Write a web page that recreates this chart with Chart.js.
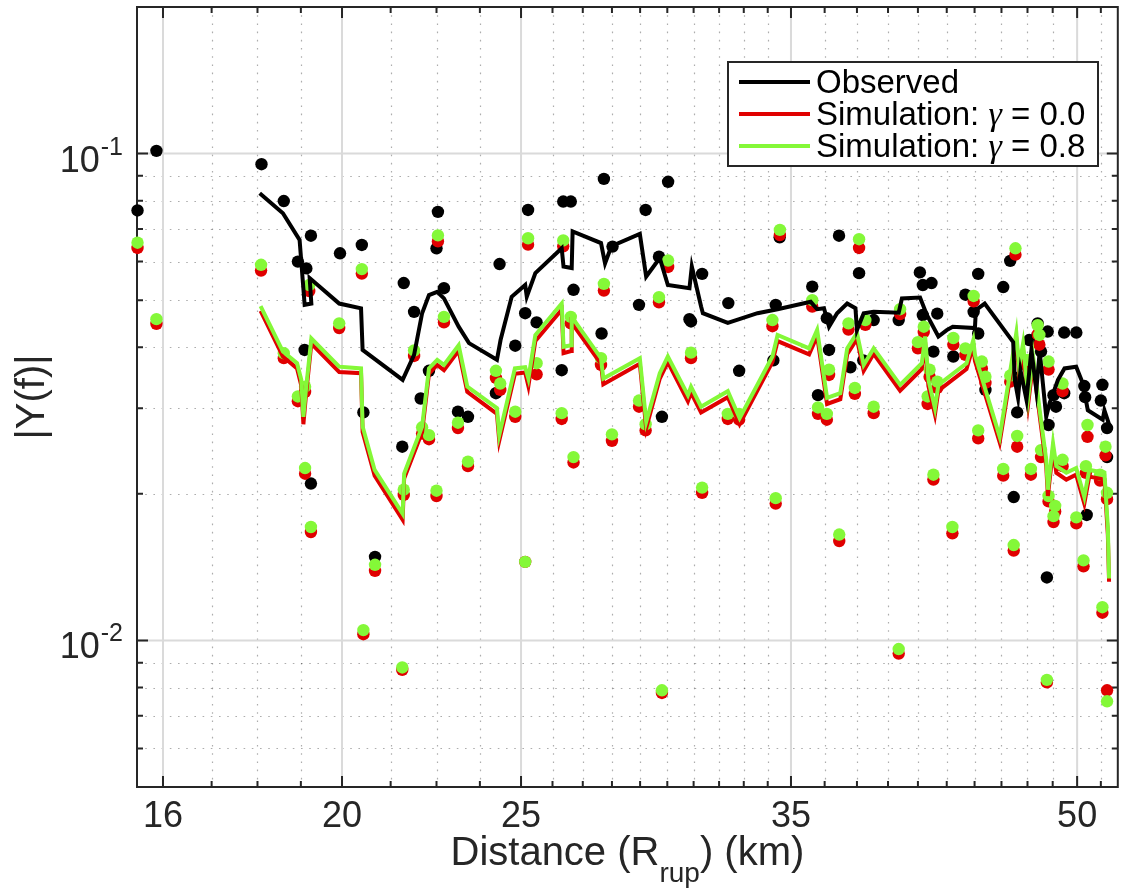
<!DOCTYPE html>
<html>
<head>
<meta charset="utf-8">
<script src="https://cdn.jsdelivr.net/npm/chart.js@4.4.1/dist/chart.umd.min.js"></script>
<style>
  html, body { margin: 0; padding: 0; background: #fff; }
  canvas { display: block; }
</style>
</head>
<body>
<canvas id="yfChart" width="1124" height="891"></canvas>
<script>
// observed station values (dots)
const obsDotX = [15.5, 15.87, 18.09, 18.6, 18.93, 19.09, 19.13, 19.24, 19.24, 19.95, 20.5, 20.54, 20.84, 21.56, 21.6, 21.88, 22.06, 22.29, 22.5, 22.54, 22.71, 23.11, 23.4, 24.23, 24.34, 24.82, 25.13, 25.22, 25.49, 26.3, 26.35, 26.6, 26.69, 27.64, 27.72, 28.02, 28.96, 29.2, 29.69, 29.8, 30.03, 30.84, 30.9, 31.33, 32.37, 32.81, 34.24, 34.34, 34.51, 35.94, 36.2, 36.6, 36.7, 37.16, 37.69, 38.1, 38.3, 38.8, 40.03, 41.1, 41.25, 41.25, 41.7, 41.8, 42.0, 42.85, 43.5, 43.95, 44.2, 44.2, 44.6, 45.6, 46.0, 46.2, 46.35, 46.4, 47.1, 47.6, 47.8, 48.15, 48.2, 48.25, 48.55, 48.7, 49.2, 49.2, 49.95, 50.45, 50.5, 50.6, 51.5, 51.6, 51.9, 51.9];
const obsDotY = [0.0764, 0.1013, 0.0951, 0.0799, 0.060, 0.0395, 0.0581, 0.0678, 0.021, 0.0624, 0.0649, 0.0294, 0.01485, 0.025, 0.0542, 0.0473, 0.0314, 0.0358, 0.0639, 0.0759, 0.0529, 0.0295, 0.0288, 0.0322, 0.0593, 0.0403, 0.047, 0.0766, 0.045, 0.0359, 0.0797, 0.0797, 0.0525, 0.0427, 0.0887, 0.0644, 0.0489, 0.0766, 0.0614, 0.0288, 0.0875, 0.0457, 0.0452, 0.0566, 0.0493, 0.0358, 0.0376, 0.0489, 0.0673, 0.0533, 0.0319, 0.0459, 0.0395, 0.0678, 0.0364, 0.0568, 0.0376, 0.0455, 0.0455, 0.057, 0.0537, 0.0466, 0.0542, 0.0392, 0.0469, 0.0383, 0.0513, 0.0473, 0.0566, 0.0427, 0.0327, 0.0532, 0.0602, 0.0197, 0.0346, 0.0294, 0.0414, 0.0448, 0.0392, 0.01347, 0.0431, 0.0277, 0.0319, 0.0302, 0.0429, 0.0322, 0.0429, 0.0333, 0.0316, 0.0181, 0.0311, 0.0335, 0.0273, 0.0238];

// simulated station values (dots), gamma = 0.8 and gamma = 0.0
const simDotX = [15.5, 15.87, 18.08, 18.6, 18.93, 19.1, 19.1, 19.2, 19.24, 19.93, 20.5, 20.54, 20.84, 21.56, 21.6, 21.88, 22.1, 22.29, 22.5, 22.54, 22.71, 23.11, 23.4, 24.23, 24.36, 24.82, 25.13, 25.22, 25.49, 26.3, 26.35, 26.6, 26.69, 27.62, 27.72, 28.0, 28.96, 29.2, 29.69, 29.8, 30.03, 30.9, 31.33, 32.35, 32.81, 34.2, 34.34, 34.52, 35.94, 36.2, 36.6, 36.7, 37.17, 37.6, 37.9, 38.1, 38.4, 38.8, 40.03, 40.1, 41.0, 41.3, 41.5, 41.6, 41.8, 42.0, 42.8, 42.85, 43.5, 43.95, 44.2, 44.4, 44.6, 45.6, 46.0, 46.2, 46.3, 46.4, 47.0, 47.2, 47.6, 47.7, 47.8, 48.15, 48.25, 48.25, 48.55, 48.65, 49.1, 49.1, 49.95, 50.4, 50.55, 50.65, 51.45, 51.6, 51.8, 51.9, 51.9];
const sim08DotY = [0.0656, 0.0457, 0.0591, 0.0389, 0.0317, 0.0332, 0.0226, 0.0537, 0.0171, 0.0448, 0.0579, 0.0105, 0.0143, 0.0088, 0.0204, 0.0394, 0.0274, 0.0264, 0.0203, 0.0679, 0.0462, 0.028, 0.0233, 0.0358, 0.0337, 0.0295, 0.0145, 0.067, 0.0371, 0.0293, 0.0663, 0.0462, 0.0238, 0.038, 0.054, 0.0265, 0.0311, 0.0278, 0.0507, 0.0079, 0.0603, 0.039, 0.0206, 0.0292, 0.0292, 0.0455, 0.0196, 0.0697, 0.050, 0.0301, 0.0292, 0.036, 0.0165, 0.0448, 0.033, 0.0667, 0.0455, 0.0302, 0.0096, 0.0479, 0.041, 0.0441, 0.0317, 0.036, 0.0219, 0.034, 0.0171, 0.0418, 0.0398, 0.051, 0.027, 0.0374, 0.0348, 0.0225, 0.035, 0.0157, 0.0639, 0.0263, 0.0377, 0.0225, 0.0444, 0.0424, 0.0246, 0.0083, 0.0374, 0.0198, 0.018, 0.0189, 0.0337, 0.0235, 0.0179, 0.0146, 0.0228, 0.0277, 0.0219, 0.0117, 0.025, 0.0075, 0.0201];
const sim00DotY = [0.064, 0.0447, 0.0575, 0.038, 0.031, 0.0324, 0.022, 0.0522, 0.0167, 0.0438, 0.0567, 0.0103, 0.0139, 0.0087, 0.0199, 0.0384, 0.0266, 0.0259, 0.0198, 0.066, 0.045, 0.0273, 0.0228, 0.0346, 0.0327, 0.0288, 0.0145, 0.065, 0.0352, 0.0285, 0.0645, 0.0448, 0.0232, 0.0368, 0.0523, 0.0257, 0.0302, 0.027, 0.0495, 0.0078, 0.0585, 0.038, 0.0201, 0.0285, 0.0284, 0.0442, 0.0191, 0.068, 0.0485, 0.0292, 0.0284, 0.0351, 0.016, 0.0435, 0.0321, 0.064, 0.0445, 0.0293, 0.0094, 0.0468, 0.0398, 0.043, 0.0306, 0.0348, 0.0214, 0.033, 0.0166, 0.0405, 0.0386, 0.0497, 0.026, 0.0362, 0.0338, 0.0218, 0.034, 0.0153, 0.062, 0.025, 0.0365, 0.0219, 0.0425, 0.0405, 0.0238, 0.0082, 0.036, 0.0193, 0.0175, 0.0184, 0.0325, 0.0228, 0.0174, 0.0142, 0.0221, 0.0262, 0.0213, 0.0114, 0.024, 0.0079, 0.0195];

// running curves
const obsLineX = [18.05, 18.58, 18.97, 19.09, 19.25, 19.21, 19.93, 20.48, 20.52, 21.57, 21.88, 22.1, 22.29, 22.52, 22.71, 23.13, 23.43, 24.26, 24.37, 24.71, 25.13, 25.18, 25.45, 26.3, 26.36, 26.63, 26.66, 27.62, 27.76, 27.98, 28.99, 29.22, 29.72, 30.02, 30.84, 30.93, 31.29, 31.36, 32.35, 33.57, 34.42, 35.87, 36.16, 36.47, 36.7, 37.07, 37.54, 37.93, 38.0, 38.32, 38.8, 40.03, 40.19, 41.11, 41.46, 42.06, 42.5, 42.82, 44.02, 44.07, 44.56, 46.17, 46.26, 46.45, 46.59, 46.94, 47.23, 47.52, 47.72, 48.11, 48.31, 48.82, 49.22, 49.94, 50.36, 50.67, 51.62, 51.73, 52.16];
const obsLineY = [0.0829, 0.0754, 0.0665, 0.0489, 0.0492, 0.0555, 0.0492, 0.0481, 0.0395, 0.0343, 0.0386, 0.047, 0.0512, 0.052, 0.0504, 0.0441, 0.0408, 0.0377, 0.0414, 0.0508, 0.0537, 0.0508, 0.0568, 0.0639, 0.0586, 0.0582, 0.0692, 0.0655, 0.0595, 0.0645, 0.0684, 0.0559, 0.061, 0.0537, 0.0529, 0.0586, 0.0485, 0.047, 0.0449, 0.047, 0.0479, 0.0496, 0.0479, 0.0481, 0.0441, 0.047, 0.0492, 0.0481, 0.0434, 0.047, 0.0473, 0.0471, 0.0504, 0.0506, 0.0466, 0.0421, 0.0434, 0.0441, 0.0438, 0.0477, 0.0492, 0.041, 0.0343, 0.0315, 0.0359, 0.0312, 0.0395, 0.0327, 0.0392, 0.0288, 0.0307, 0.0343, 0.0362, 0.0365, 0.0337, 0.0297, 0.0284, 0.0297, 0.027];

const simLineX = [18.07, 18.58, 18.91, 19.01, 19.06, 19.12, 19.25, 19.93, 20.48, 20.52, 20.83, 21.57, 21.61, 22.1, 22.29, 22.52, 22.71, 23.13, 23.38, 24.26, 24.33, 24.81, 25.13, 25.23, 25.45, 26.3, 26.36, 26.61, 26.63, 27.62, 27.7, 28.99, 29.22, 29.72, 30.02, 30.78, 30.9, 31.29, 32.35, 32.83, 34.2, 34.42, 35.8, 36.16, 36.61, 37.22, 37.54, 38.0, 38.32, 38.8, 40.1, 41.2, 41.37, 41.54, 41.88, 42.06, 43.56, 43.93, 44.02, 45.4, 46.35, 46.51, 46.74, 47.04, 47.33, 47.72, 48.11, 48.21, 48.52, 48.72, 49.33, 49.94, 50.45, 50.76, 51.73, 51.95, 52.03];
const sim08LineY = [0.0486, 0.0392, 0.0371, 0.0343, 0.0288, 0.0327, 0.0417, 0.0365, 0.0362, 0.0275, 0.0224, 0.0182, 0.022, 0.0275, 0.0362, 0.0377, 0.0368, 0.0404, 0.0332, 0.03, 0.0264, 0.0362, 0.0364, 0.0345, 0.0424, 0.0492, 0.0401, 0.0404, 0.0462, 0.038, 0.0345, 0.038, 0.0281, 0.0354, 0.0383, 0.0319, 0.0332, 0.0302, 0.0325, 0.0286, 0.0383, 0.0424, 0.0398, 0.0434, 0.0315, 0.0322, 0.0398, 0.0428, 0.0368, 0.0398, 0.0335, 0.0371, 0.0421, 0.0343, 0.03, 0.0335, 0.0371, 0.0414, 0.0386, 0.0262, 0.0428, 0.0365, 0.0407, 0.0315, 0.0383, 0.0297, 0.0235, 0.0204, 0.0254, 0.0228, 0.0221, 0.0226, 0.0197, 0.0224, 0.0221, 0.0171, 0.0134];
const sim00LineY = [0.0475, 0.0383, 0.0362, 0.0334, 0.0278, 0.0318, 0.0407, 0.0356, 0.0354, 0.0268, 0.0218, 0.0177, 0.0215, 0.0268, 0.0353, 0.0368, 0.0359, 0.0394, 0.0324, 0.0292, 0.0257, 0.0353, 0.0355, 0.0333, 0.0412, 0.0478, 0.0389, 0.0393, 0.0449, 0.037, 0.0336, 0.037, 0.0273, 0.0345, 0.0373, 0.031, 0.0323, 0.0294, 0.0316, 0.0278, 0.0373, 0.0412, 0.0387, 0.0422, 0.0306, 0.0313, 0.0387, 0.0416, 0.0358, 0.0388, 0.0326, 0.0361, 0.041, 0.0333, 0.0291, 0.0326, 0.0361, 0.0403, 0.0375, 0.0255, 0.0416, 0.0355, 0.0396, 0.0306, 0.0372, 0.0289, 0.0228, 0.0198, 0.0247, 0.0221, 0.0214, 0.0219, 0.0191, 0.0217, 0.0214, 0.0165, 0.0132];

// axes
const xMin = 15.49, xMax = 52.6;
const yMin = 0.005, yMax = 0.2;
const xMajorTicks = [16, 20, 25, 35, 50];
const xMinorTicks = [17, 18, 19, 21.25, 22.5, 23.75, 26, 27, 28, 29, 30, 31, 32, 33, 34, 36.5, 38, 39.5, 41, 42.5, 44, 45.5, 47, 48.5, 51.5];
const yMajorTicks = [0.01, 0.1];
const yMajorExponents = ['-2', '-1'];
const yMinorTicks = [0.006, 0.007, 0.008, 0.009, 0.02, 0.03, 0.04, 0.05, 0.06, 0.07, 0.08, 0.09];

const FONT = "'Liberation Sans', Arial, Helvetica, sans-serif";
const INK = '#262626';
const GREEN = '#84f838';
const RED = '#e00000';

const pts = (xs, ys) => xs.map((x, i) => ({ x: x, y: ys[i] }));

// grid, box and inward ticks like the original axes
const axesFrame = {
  id: 'axesFrame',
  beforeDatasetsDraw(chart) {
    const { ctx, chartArea: a, scales: { x, y } } = chart;
    ctx.save();
    ctx.lineWidth = 1.2;
    ctx.strokeStyle = 'rgba(0,0,0,0.32)';
    ctx.setLineDash([1.6, 6.6]);
    xMinorTicks.forEach((v) => {
      const p = Math.round(x.getPixelForValue(v)) + 0.5;
      ctx.beginPath(); ctx.moveTo(p, a.top); ctx.lineTo(p, a.bottom); ctx.stroke();
    });
    yMinorTicks.forEach((v) => {
      const p = Math.round(y.getPixelForValue(v)) + 0.5;
      ctx.beginPath(); ctx.moveTo(a.left, p); ctx.lineTo(a.right, p); ctx.stroke();
    });
    ctx.setLineDash([]);
    ctx.lineWidth = 2;
    ctx.strokeStyle = '#dadada';
    xMajorTicks.forEach((v) => {
      const p = x.getPixelForValue(v);
      ctx.beginPath(); ctx.moveTo(p, a.top); ctx.lineTo(p, a.bottom); ctx.stroke();
    });
    yMajorTicks.forEach((v) => {
      const p = y.getPixelForValue(v);
      ctx.beginPath(); ctx.moveTo(a.left, p); ctx.lineTo(a.right, p); ctx.stroke();
    });

    ctx.strokeStyle = INK;
    ctx.lineWidth = 2;
    const tick = (vals, len) => {
      vals.forEach((v) => {
        const p = x.getPixelForValue(v);
        ctx.beginPath();
        ctx.moveTo(p, a.bottom); ctx.lineTo(p, a.bottom - len);
        ctx.moveTo(p, a.top); ctx.lineTo(p, a.top + len);
        ctx.stroke();
      });
    };
    const ytick = (vals, len) => {
      vals.forEach((v) => {
        const p = y.getPixelForValue(v);
        ctx.beginPath();
        ctx.moveTo(a.left, p); ctx.lineTo(a.left + len, p);
        ctx.moveTo(a.right, p); ctx.lineTo(a.right - len, p);
        ctx.stroke();
      });
    };
    tick(xMajorTicks, 11);
    tick(xMinorTicks, 6);
    ytick(yMajorTicks, 11);
    ytick(yMinorTicks, 6);
    ctx.strokeRect(a.left, a.top, a.right - a.left, a.bottom - a.top);
    ctx.restore();
  },
  afterDraw(chart) {
    const { ctx, chartArea: a, scales: { y } } = chart;
    ctx.save();
    ctx.fillStyle = INK;
    ctx.textBaseline = 'alphabetic';

    // y tick labels 10^n
    yMajorTicks.forEach((v, i) => {
      const p = y.getPixelForValue(v);
      ctx.font = '36px ' + FONT;
      const wb = ctx.measureText('10').width;
      ctx.font = '25px ' + FONT;
      const we = ctx.measureText(yMajorExponents[i]).width;
      const sx = a.left - 15 - we - wb;
      ctx.font = '36px ' + FONT;
      ctx.fillText('10', sx, p + 18);
      ctx.font = '25px ' + FONT;
      ctx.fillText(yMajorExponents[i], sx + wb + 1, p + 1);
    });

    // x axis title with subscript
    const big = '40px ' + FONT;
    const small = '28px ' + FONT;
    ctx.font = big;
    const w1 = ctx.measureText('Distance (R').width;
    const w3 = ctx.measureText(') (km)').width;
    ctx.font = small;
    const w2 = ctx.measureText('rup').width;
    let tx = (a.left + a.right) / 2 - (w1 + w2 + w3) / 2;
    ctx.font = big;
    ctx.fillText('Distance (R', tx, 865);
    tx += w1;
    ctx.font = small;
    ctx.fillText('rup', tx, 882);
    tx += w2;
    ctx.font = big;
    ctx.fillText(') (km)', tx, 865);

    // legend box
    const bx = 728, by = 62, bw = 370, bh = 104;
    ctx.fillStyle = '#fff';
    ctx.fillRect(bx, by, bw, bh);
    ctx.strokeStyle = INK;
    ctx.lineWidth = 2;
    ctx.strokeRect(bx, by, bw, bh);
    const rows = [0, 2, 1];
    rows.forEach((di, r) => {
      const ds = chart.data.datasets[di];
      const ly = 82 + r * 32;
      ctx.strokeStyle = ds.borderColor;
      ctx.lineWidth = 4;
      ctx.beginPath(); ctx.moveTo(739, ly); ctx.lineTo(810, ly); ctx.stroke();
      ctx.fillStyle = '#000';
      const parts = ds.label.split('\u03B3');
      let lx = 816;
      ctx.font = '33px ' + FONT;
      ctx.fillText(parts[0], lx, ly + 11);
      lx += ctx.measureText(parts[0]).width;
      if (parts.length > 1) {
        ctx.font = "italic 34px 'Liberation Serif', 'DejaVu Serif', serif";
        ctx.fillText('\u03B3', lx, ly + 11);
        lx += ctx.measureText('\u03B3').width;
        ctx.font = '33px ' + FONT;
        ctx.fillText(parts[1], lx, ly + 11);
      }
    });
    ctx.restore();
  }
};

const ctx = document.getElementById('yfChart').getContext('2d');
new Chart(ctx, {
  type: 'scatter',
  data: {
    datasets: [
      { label: 'Observed', data: pts(obsLineX, obsLineY), showLine: true, borderColor: '#000', borderWidth: 4, borderJoinStyle: 'miter', pointRadius: 0, order: 0 },
      { label: 'Simulation: \u03B3 = 0.8', data: pts(simLineX, sim08LineY), showLine: true, borderColor: GREEN, borderWidth: 4, borderJoinStyle: 'miter', pointRadius: 0, order: 1 },
      { label: 'Simulation: \u03B3 = 0.0', data: pts(simLineX, sim00LineY), showLine: true, borderColor: RED, borderWidth: 4, borderJoinStyle: 'miter', pointRadius: 0, order: 2 },
      { label: 'sim 0.8 stations', data: pts(simDotX, sim08DotY), pointRadius: 6.2, pointBackgroundColor: GREEN, pointBorderWidth: 0, clip: false, order: 3 },
      { label: 'sim 0.0 stations', data: pts(simDotX, sim00DotY), pointRadius: 6.2, pointBackgroundColor: RED, pointBorderWidth: 0, clip: false, order: 4 },
      { label: 'observed stations', data: pts(obsDotX, obsDotY), pointRadius: 6.2, pointBackgroundColor: '#000', pointBorderWidth: 0, clip: false, order: 5 }
    ]
  },
  options: {
    responsive: false,
    animation: false,
    events: [],
    devicePixelRatio: 1,
    layout: { padding: { top: 7, right: 2, left: 0, bottom: 0 } },
    plugins: {
      legend: { display: false },
      tooltip: { enabled: false }
    },
    scales: {
      x: {
        type: 'logarithmic',
        min: xMin,
        max: xMax,
        grid: { display: false, drawTicks: false },
        border: { display: false },
        afterBuildTicks: (axis) => {
          axis.ticks = xMajorTicks.map((v) => ({ value: v }));
        },
        afterFit: (axis) => { axis.height = 104; },
        ticks: {
          autoSkip: false,
          maxRotation: 0,
          minRotation: 0,
          padding: 8,
          color: INK,
          font: { family: FONT, size: 36 },
          callback: (v) => String(v)
        }
      },
      y: {
        type: 'logarithmic',
        min: yMin,
        max: yMax,
        grid: { display: false, drawTicks: false },
        border: { display: false },
        afterBuildTicks: (axis) => {
          axis.ticks = yMajorTicks.map((v) => ({ value: v }));
        },
        afterFit: (axis) => { axis.width = 137; },
        title: {
          display: true,
          text: '|Y(f)|',
          color: INK,
          font: { family: FONT, size: 40, lineHeight: 1 },
          padding: { top: 13, bottom: 0 }
        },
        ticks: { display: false }
      }
    }
  },
  plugins: [axesFrame]
});
</script>
</body>
</html>
